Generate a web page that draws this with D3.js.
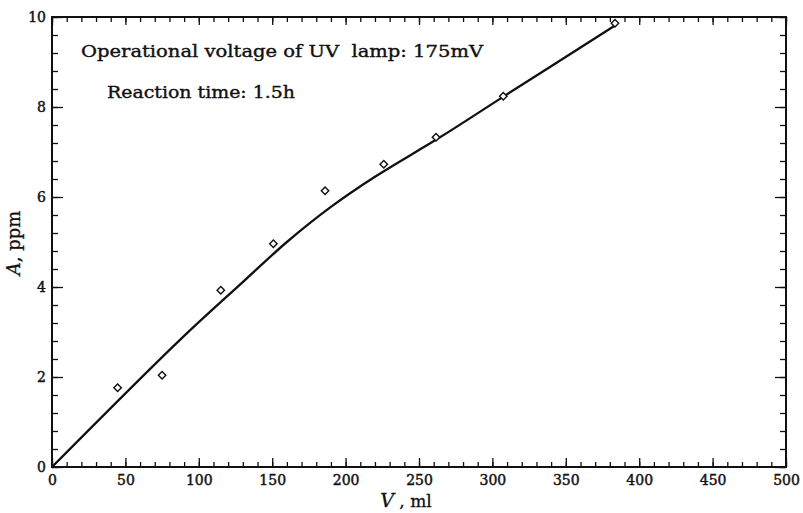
<!DOCTYPE html>
<html>
<head>
<meta charset="utf-8">
<script src="https://cdn.jsdelivr.net/npm/d3@7"></script>
<style>
  html, body { margin: 0; padding: 0; background: #fff; }
  svg { display: block; }
  text { font-family: "DejaVu Serif", "Liberation Serif", serif; fill: #111; }
</style>
</head>
<body>
<svg id="chart" width="803" height="513"></svg>
<script>
// Measured points: volume V (ml) and concentration A (ppm)
const volumes = [44.7, 75, 115, 150.8, 186, 226, 261.6, 307.4, 383.5];
const concentrations = [1.76, 2.04, 3.93, 4.96, 6.14, 6.73, 7.33, 8.24, 9.86];

// Fitted calibration curve
const curveV = [0, 87, 129, 160, 190, 220, 264, 307, 383];
const curveA = [0, 2.82, 4.08, 5.0, 5.78, 6.45, 7.32, 8.22, 9.8];

// Axis ticks
const xMajor = [0, 50, 100, 150, 200, 250, 300, 350, 400, 450, 500];
const xMinor = d3.range(0, 501, 10);
const yMajor = [0, 2, 4, 6, 8, 10];
const yMinor = d3.range(0, 10.01, 0.4);

const notes = ["Operational voltage of UV\u00a0\u00a0lamp: 175mV", "Reaction time: 1.5h"];

const svg = d3.select("#chart");
const x = d3.scaleLinear().domain([0, 500]).range([52, 786]);
const y = d3.scaleLinear().domain([0, 10]).range([467, 17]);
const [x0, x1] = x.range();
const [y0, y1] = y.range();

function axisStyle(g) {
  g.select(".domain").remove();
  g.selectAll(".tick line").attr("stroke", "#111").attr("stroke-width", 1.3);
  g.selectAll(".tick text")
    .style("font-size", "14px").style("font-family", "DejaVu Serif")
    .attr("fill", "#111").attr("stroke", "#111").attr("stroke-width", 0.45);
}

// minor ticks on all four sides
svg.append("g").attr("transform", `translate(0,${y0})`)
  .call(d3.axisBottom(x).tickValues(xMinor).tickSize(-5).tickFormat(""))
  .call(axisStyle);
svg.append("g").attr("transform", `translate(0,${y1})`)
  .call(d3.axisTop(x).tickValues(xMinor).tickSize(-5).tickFormat(""))
  .call(axisStyle);
svg.append("g").attr("transform", `translate(${x0},0)`)
  .call(d3.axisLeft(y).tickValues(yMinor).tickSize(-6).tickFormat(""))
  .call(axisStyle);
svg.append("g").attr("transform", `translate(${x1},0)`)
  .call(d3.axisRight(y).tickValues(yMinor).tickSize(-6).tickFormat(""))
  .call(axisStyle);

// major ticks with labels
svg.append("g").attr("transform", `translate(0,${y0})`)
  .call(d3.axisBottom(x).tickValues(xMajor).tickSize(-9).tickPadding(8).tickFormat(d3.format("d")))
  .call(axisStyle);
svg.append("g").attr("transform", `translate(0,${y1})`)
  .call(d3.axisTop(x).tickValues(xMajor).tickSize(-8).tickFormat(""))
  .call(axisStyle);
svg.append("g").attr("transform", `translate(${x0},0)`)
  .call(d3.axisLeft(y).tickValues(yMajor).tickSize(-11).tickPadding(6).tickFormat(d3.format("d")))
  .call(axisStyle);
svg.append("g").attr("transform", `translate(${x1},0)`)
  .call(d3.axisRight(y).tickValues(yMajor).tickSize(-11).tickFormat(""))
  .call(axisStyle);

// frame
svg.append("rect")
  .attr("x", x0).attr("y", y1)
  .attr("width", x1 - x0).attr("height", y0 - y1)
  .attr("fill", "none").attr("stroke", "#111").attr("stroke-width", 2);

// calibration curve
const curvePts = curveV.map((v, i) => [v, curveA[i]]);
svg.append("path")
  .datum(curvePts)
  .attr("fill", "none")
  .attr("stroke", "#111")
  .attr("stroke-width", 2.3)
  .attr("stroke-linecap", "round")
  .attr("d", d3.line().x(d => x(d[0])).y(d => y(d[1])).curve(d3.curveCatmullRom.alpha(0.5)));

// data markers: small open diamonds
const diamond = d3.symbol().type(d3.symbolSquare).size(28);
svg.append("g").selectAll("path")
  .data(volumes.map((v, i) => [v, concentrations[i]]))
  .join("path")
  .attr("transform", d => `translate(${x(d[0])},${y(d[1])}) rotate(45)`)
  .attr("d", diamond)
  .attr("fill", "#fff")
  .attr("stroke", "#111")
  .attr("stroke-width", 1.4);

// annotations
svg.append("text").attr("x", 81).attr("y", 57)
  .attr("textLength", 402).attr("lengthAdjust", "spacingAndGlyphs")
  .attr("stroke", "#111").attr("stroke-width", 0.4)
  .style("font-size", "17.5px").text(notes[0]);
svg.append("text").attr("x", 107).attr("y", 98)
  .attr("textLength", 188).attr("lengthAdjust", "spacingAndGlyphs")
  .attr("stroke", "#111").attr("stroke-width", 0.4)
  .style("font-size", "17.5px").text(notes[1]);

// axis titles
const xt = svg.append("text").attr("x", 406).attr("y", 507)
  .attr("text-anchor", "middle").style("font-size", "17px")
  .attr("stroke", "#111").attr("stroke-width", 0.3);
xt.append("tspan").style("font-style", "italic").style("font-size", "19px").text("V");
xt.append("tspan").text(" , ml");

const yt = svg.append("text")
  .attr("transform", "translate(19.5,243) rotate(-90)")
  .attr("text-anchor", "middle").style("font-size", "18px")
  .attr("stroke", "#111").attr("stroke-width", 0.3);
yt.append("tspan").style("font-style", "italic").text("A");
yt.append("tspan").text(", ppm");
</script>
</body>
</html>
